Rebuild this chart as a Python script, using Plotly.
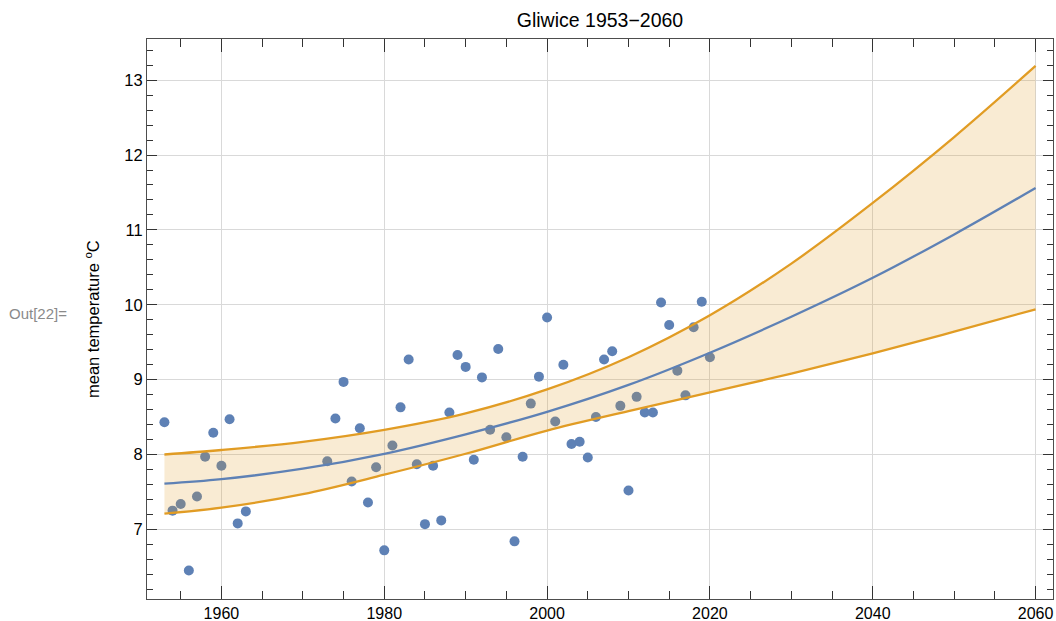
import plotly.graph_objects as go

years = [1953, 1954, 1955, 1956, 1957, 1958, 1959, 1960, 1961, 1962, 1963,
         1973, 1974, 1975, 1976, 1977, 1978, 1979, 1980, 1981, 1982, 1983,
         1984, 1985, 1986, 1987, 1988, 1989, 1990, 1991, 1992, 1993, 1994,
         1995, 1996, 1997, 1998, 1999, 2000, 2001, 2002, 2003, 2004, 2005,
         2006, 2007, 2008, 2009, 2010, 2011, 2012, 2013, 2014, 2015, 2016,
         2017, 2018, 2019, 2020]
temps = [8.43, 7.25, 7.34, 6.45, 7.44, 7.97, 8.29, 7.85, 8.47, 7.08, 7.24,
         7.91, 8.48, 8.97, 7.64, 8.35, 7.36, 7.83, 6.72, 8.12, 8.63, 9.27,
         7.87, 7.07, 7.85, 7.12, 8.56, 9.33, 9.17, 7.93, 9.03, 8.33, 9.41,
         8.23, 6.84, 7.97, 8.68, 9.04, 9.83, 8.44, 9.20, 8.14, 8.17, 7.96,
         8.50, 9.27, 9.38, 8.65, 7.52, 8.77, 8.56, 8.56, 10.03, 9.73, 9.12,
         8.79, 9.70, 10.04, 9.30]

# Fitted trend and band
curve_years = [1953, 1960, 1970, 1980, 1990, 2000, 2010, 2020, 2030, 2040, 2050, 2060]
fit = [7.61, 7.67, 7.81, 8.01, 8.27, 8.57, 8.93, 9.36, 9.84, 10.36, 10.94, 11.56]
upper = [8.00, 8.06, 8.17, 8.33, 8.55, 8.87, 9.30, 9.86, 10.55, 11.36, 12.24, 13.19]
lower = [7.21, 7.29, 7.47, 7.73, 8.01, 8.32, 8.58, 8.83, 9.08, 9.35, 9.64, 9.94]

BLUE = "#5E81B5"
ORANGE = "#E19C24"
FONT = "Liberation Sans, Arial, sans-serif"

fig = go.Figure()
fig.add_trace(go.Scatter(x=years, y=temps, mode="markers",
                         marker=dict(color=BLUE, size=10, line=dict(width=0)),
                         showlegend=False, hoverinfo="skip"))
fig.add_trace(go.Scatter(x=curve_years, y=lower, mode="lines",
                         line=dict(width=0, shape="spline", smoothing=1.0),
                         showlegend=False, hoverinfo="skip"))
fig.add_trace(go.Scatter(x=curve_years, y=upper, mode="lines",
                         line=dict(width=0, shape="spline", smoothing=1.0),
                         fill="tonexty", fillcolor="rgba(225,156,36,0.2)",
                         showlegend=False, hoverinfo="skip"))
for ys, col in [(lower, ORANGE), (upper, ORANGE), (fit, BLUE)]:
    fig.add_trace(go.Scatter(x=curve_years, y=ys, mode="lines",
                             line=dict(color=col, width=2.3, shape="spline", smoothing=1.0),
                             showlegend=False, hoverinfo="skip"))

axis_common = dict(showline=True, linecolor="#4d4d4d", linewidth=1, mirror="allticks",
                   ticks="inside", tickcolor="#333333", tickwidth=1,
                   showgrid=True, gridcolor="#d9d9d9", gridwidth=1,
                   zeroline=False, automargin=False)

fig.update_xaxes(range=[1950.86, 2062.14], tick0=1960, dtick=20, ticklen=13,
                 tickfont=dict(family=FONT, size=16, color="#000000"),
                 minor=dict(dtick=5, ticklen=8, ticks="inside", tickcolor="#333333", showgrid=False),
                 **axis_common)
fig.update_yaxes(range=[6.07, 13.55], tick0=7, dtick=1, ticklen=10,
                 tickfont=dict(family=FONT, size=16.5, color="#000000"),
                 minor=dict(dtick=0.2, ticklen=6, ticks="inside", tickcolor="#333333", showgrid=False),
                 **axis_common)

fig.update_layout(
    width=1056, height=621,
    margin=dict(l=147, r=3, t=39, b=22),
    plot_bgcolor="white", paper_bgcolor="white",
    title=dict(text="Gliwice 1953\u22122060", x=0.5, xref="paper", xanchor="center",
               y=1 - 20 / 621, yref="container", yanchor="middle",
               font=dict(family=FONT, size=19.5, color="#000000")),
    annotations=[
        dict(text="mean temperature <sup>o</sup>C", xref="paper", yref="paper",
             x=0, y=0.5, xanchor="center", yanchor="middle", xshift=-55,
             textangle=-90, showarrow=False,
             font=dict(family=FONT, size=16.5, color="#000000")),
        dict(text="Out[22]=", xref="paper", yref="paper", x=0, y=0.5,
             xanchor="left", yanchor="middle", xshift=-140, yshift=6,
             showarrow=False, font=dict(family=FONT, size=15, color="#8a8a8a")),
    ],
)

fig.write_html("out.html")
